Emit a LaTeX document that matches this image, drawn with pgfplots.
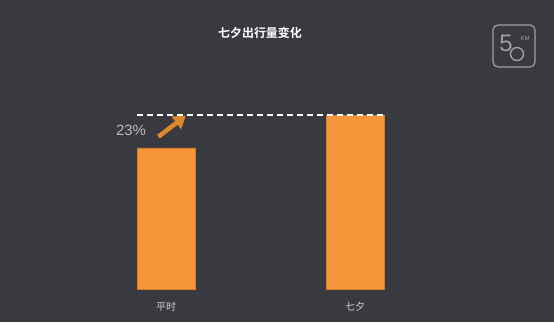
\documentclass[border=0pt]{standalone}
\usepackage{pgfplots}
\pgfplotsset{compat=1.18}
\usetikzlibrary{arrows.meta}
\usepackage{fontspec}
\setmainfont{Liberation Sans}
\newfontfamily\cjk{Noto Sans CJK SC}
\newfontfamily\cjkb{Noto Sans CJK SC}[BoldFont={* Bold}]
\definecolor{bg}{HTML}{383A3F}
\definecolor{bar}{HTML}{F7963A}
\definecolor{bard}{HTML}{D97A25}
\definecolor{arr}{HTML}{E0872E}
\definecolor{lbl}{HTML}{D0D0D0}
\definecolor{logo}{HTML}{A0A0A0}
\begin{document}
\begin{tikzpicture}[x=1bp,y=1bp]
\fill[bg] (0,0) rectangle (554,322);
\begin{axis}[
  at={(0bp,33bp)}, anchor=south west,
  scale only axis, width=554bp, height=289bp,
  xmin=-0.8783, xmax=2.0529, ymin=0, ymax=204.96,
  axis line style={draw=none}, tick style={draw=none},
  ymajorticks=false,
  xtick={0,1}, xticklabels={平时,七夕},
  xticklabel style={font=\cjk\fontsize{10}{11}\selectfont, text=lbl, anchor=center, yshift=-13bp},
  clip=false,
  ybar, bar width=58bp,
]
\addplot[fill=bar, draw=bard, line width=0.4bp] coordinates {(0,100) (1,123.4)};
\addplot[sharp plot, draw=white, dashed, dash pattern=on 6bp off 4bp, line width=1.3bp, forget plot] coordinates {(-0.153,123.4) (1.153,123.4)};
\draw[-{Triangle[length=12bp,width=15bp]}, line width=4.5bp, color=arr] (axis cs:-0.04,108) -- (axis cs:0.105,123);
\node[text=lbl!90!black, font=\fontsize{15}{17}\selectfont] at (axis cs:-0.185,112.5) {23\%};
\end{axis}
\node[text=white, font=\cjkb\bfseries\fontsize{12}{14}\selectfont] at (260,289) {七夕出行量变化};
\draw[logo, line width=1.2bp, rounded corners=5bp] (493,255) rectangle (535,297);
\node[text=logo, font=\fontsize{24}{24}\selectfont, inner sep=0] at (506,279) {5};
\draw[logo, line width=1.4bp] (517,268) circle (6.5bp);
\node[text=logo, font=\fontsize{6}{6}\selectfont, inner sep=0] at (525,284) {KM};
\pgfresetboundingbox
\path[use as bounding box] (0,0) rectangle (554,322);
\end{tikzpicture}
\end{document}
